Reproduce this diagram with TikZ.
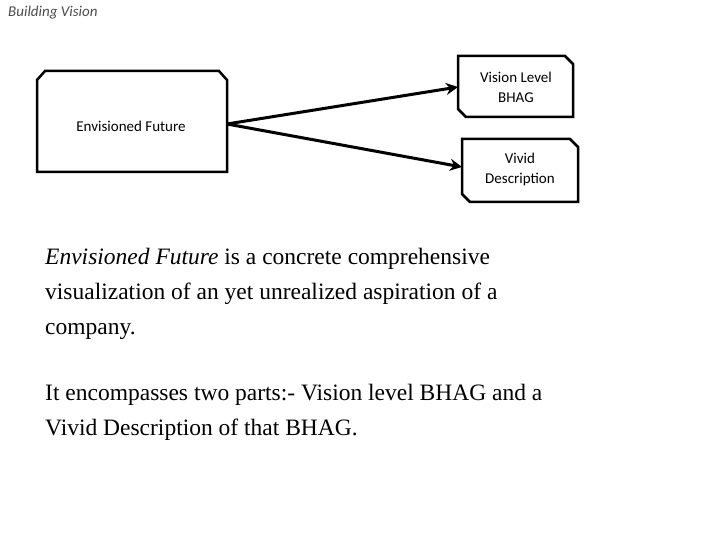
\documentclass[tikz,border=0pt]{standalone}
\usepackage{fontspec}
\usetikzlibrary{arrows.meta}
\setmainfont{Liberation Serif}
\newfontfamily\carlitofont{Carlito}
\begin{document}
\begin{tikzpicture}[x=1pt,y=-1pt,
  box/.style={minimum width=0pt,inner sep=0pt,align=center,font=\carlitofont\fontsize{15}{20}\selectfont},
  outl/.style={line width=2.5pt,line join=miter},
  arr/.style={line width=3pt,-{Stealth[length=12pt,width=12pt]}},
  body/.style={anchor=north west,align=left,inner sep=0pt,font=\fontsize{23.5}{35}\selectfont}]
\useasboundingbox (0,0) rectangle (720,540);
\node[anchor=north west,inner sep=0pt,font=\carlitofont\itshape\fontsize{15}{18}\selectfont,text=black!70] (title) at (8,6) {Building Vision};
% big box
\draw[outl] (37,80) -- (45,71) -- (219,71) -- (227,80) -- (227,172) -- (37,172) -- cycle;
\node[box] (ef) at (131,126) {Envisioned Future};
\coordinate (efr) at (227,124);
% box 1
\draw[outl] (458,56) -- (565,56) -- (573,64) -- (573,117) -- (466,117) -- (458,109) -- cycle;
\node[box] (v1) at (516,87) {Vision Level\\BHAG};
\coordinate (v1l) at (458,87);
% box 2
\draw[outl] (462,139) -- (570,139) -- (578,147) -- (578,202) -- (470,202) -- (462,194) -- cycle;
\node[box] (v2) at (520,170) {Vivid\\Description};
\coordinate (v2l) at (462,167);
\draw[arr] (efr) -- (v1l);
\draw[arr] (efr) -- (v2l);
\node[body] (t1) at (45,248) {\textit{Envisioned Future} is a concrete comprehensive\\visualization of an yet unrealized aspiration of a\\company.};
\node[body] (t2) at (45,384) {It encompasses two parts:- Vision level BHAG and a\\Vivid Description of that BHAG.};
\end{tikzpicture}
\end{document}
